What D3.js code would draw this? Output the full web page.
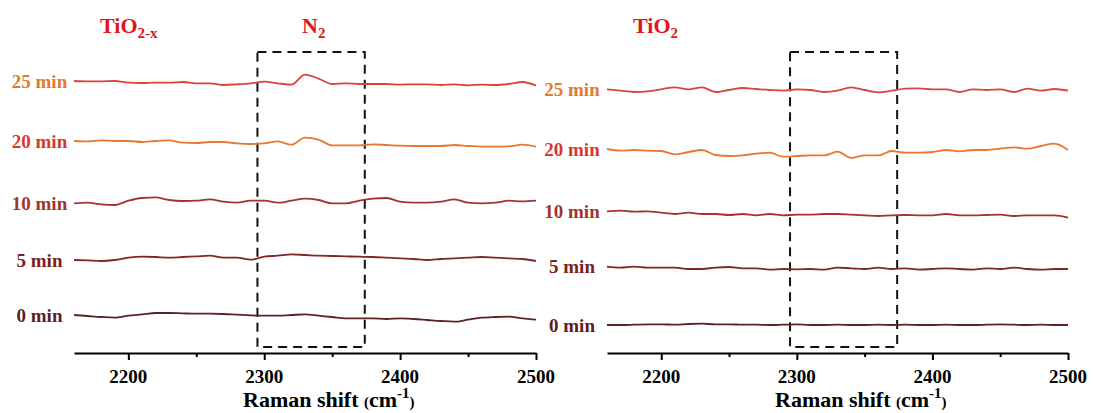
<!DOCTYPE html>
<html>
<head>
<meta charset="utf-8">
<script src="https://cdn.jsdelivr.net/npm/d3@7"></script>
<style>
  body { margin: 0; background: #fff; }
  svg text { font-family: "Liberation Serif", "Times New Roman", serif; font-weight: bold; }
</style>
</head>
<body>
<div id="chart-container"></div>
<script>
// Raman shift (cm-1) sample points shared by every trace
var shift = [2160, 2170, 2180, 2190, 2200, 2210, 2220, 2230, 2240, 2250, 2260, 2270,
             2280, 2290, 2300, 2310, 2320, 2330, 2340, 2350, 2360, 2370, 2380, 2390,
             2400, 2410, 2420, 2430, 2440, 2450, 2460, 2470, 2480, 2490, 2500];

var times = ["0 min", "5 min", "10 min", "20 min", "25 min"];
var traceColors = ["#5c2323", "#7e2727", "#a53232", "#e8772f", "#d9443b"];
var labelColors = ["#5a1f1f", "#7a2222", "#a2342e", "#d8382c", "#e27a30"];

var tickValues = [2200, 2250, 2300, 2350, 2400, 2450, 2500];
var tickLabels = ["2200", "2300", "2400", "2500"];
var boxShift = [2295, 2374];
var boxLevels = [6, 301];

// TiO2-x panel: vertical offsets and intensities (a.u.)
var leftOffsets = [37.3, 95.3, 151.3, 210.3, 269.7];
var left0 = [0.7, -0.3, -1.3, -2, 0, 1.3, 2.7, 2.7, 2.3, 2, 2, 1.7, 1, 0.3, 0, 0, 0.7, 1.3, 0, -1.3,
             -2.7, -2.7, -2.7, -3.3, -2.7, -3.3, -4.3, -5.3, -6, -4, -2, -1.3, -1, -2.7, -4];
var left5 = [-2.3, -2.7, -3.3, -2.3, 0, 1, 0.7, 0, 0.7, 1.3, 2, 0, 0, -2, 1, 2, 3.3, 2.7, 2, 1.7,
             1.3, 1, 0.7, 0, -0.7, -1.3, -2.3, -1.3, -0.7, 0, 0.7, 0, -0.7, -1.3, -3.3];
var left10 = [-1.7, -1, -2.7, -3.3, 1, 3.7, 4.3, 1.7, 0.7, 1, 2.3, 0, -1, 1, 1, -1, 1, 3, 1.7, -1.7,
              -1.7, 1, 3, 3.7, 0, -1, -1, 0, 2.3, -1, -1.7, -1, 1, 0.3, 1];
var left20 = [1.7, 1.3, 2.3, 1.7, 1.7, 0.7, 1.7, 2.3, 0, -0.3, 0.7, 0.7, -0.7, -1.3, -0.7, 1.3, -2, 5, 3, -2.7,
              -2.7, -2.7, -1.7, -2.3, -3, -3.3, -3.3, -3.3, -2.3, -3.3, -4, -4, -3.7, -2, -4];
var left25 = [2.3, 2, 2, 2.3, 0.7, 0.3, 0.7, 0.7, 1.3, 0, 0, -1.7, -1, 0, 1.7, 0, -1.3, 8.7, 4.7, -0.7,
              0, -0.7, -0.7, -0.7, -1.3, -1, -1, -1.7, -1, -2, -1.3, -1.7, -0.7, 1.3, -2.3];

// TiO2 panel
var rightOffsets = [28, 84.7, 139, 201.3, 263];
var right0 = [0, 0, 0.3, 0.7, 0.7, 0.3, 1, 1.3, 0.7, 0.7, 0.3, 0.3, 0, 0.3, 0.7, 0, 0, 0.3, 0, 0,
              0.3, 0, 0.3, 0, 0, 0.3, 0, 0, 0.3, 0.7, 0.3, 0, 0.3, 0, 0];
var right5 = [1.7, 0.7, 1.7, 0.7, 0.7, 0.7, -0.7, -0.7, 0.7, 1.3, 0, 0, -1.3, -0.7, -1, -0.7, -1.3, 0.7, 0, -0.7,
              0.7, -0.7, 0, -1.3, -0.7, 0, -0.7, -1.3, 0, -0.7, 0.7, -0.7, -1.3, -0.7, -0.7];
var right10 = [2.7, 3.3, 2.3, 2.7, 1.3, 0, 1.3, 0, 0, -1, 0, -1.3, 0, -1.3, -0.7, -0.7, 0, 0, -0.7, -1.3,
               -2, -1.3, -1, -1.3, -1.3, 0, -1.3, -1.3, -1, -0.7, -2, -1.3, -1.3, -1.3, -3.7];
var right20 = [2.7, 1, 1.7, 1, 0.7, -2.7, -0.3, 1.7, -3.3, -4.3, -3.7, -2, -1, -5, -4.3, -3.7, -3.7, 0, -6.3, -3.7,
               -3.7, 0.7, -1, -1, -0.3, 1.7, 0.3, 1.7, 1.7, 3, 4.3, 3, 5.7, 8, 1.7];
var right25 = [0.7, -0.7, -2, -1.3, 0.7, 2.7, 0.7, 2.7, -2, 0, 2, 1, 0, -0.7, 0.7, 0, -2, -0.7, 2.7, 0,
               -2.3, -0.7, 1.3, 1.7, 0.7, 0.7, -2, 0.7, 0, 0.7, -2, 1.3, -0.7, 1, -0.7];

var panels = [
  { title: "TiO", sub: "2-x", titleX: 100, labelX: 39.5, range: [74, 536], titleAxisX: 243,
    offsets: leftOffsets, series: [left0, left5, left10, left20, left25] },
  { title: "TiO", sub: "2", titleX: 633, labelX: 572, range: [607, 1068], titleAxisX: 775,
    offsets: rightOffsets, series: [right0, right5, right10, right20, right25] }
];

var svgWidth = 1093, svgHeight = 413;
var svg = d3.select("#chart-container").append("svg")
    .attr("width", svgWidth).attr("height", svgHeight);

var y = d3.scaleLinear().domain([0, 313]).range([353, 40]);

panels.forEach(function(p) {
  var x = d3.scaleLinear().domain([2160, 2500]).range(p.range);
  var g = svg.append("g");

  // dashed region box
  var bx0 = x(boxShift[0]), bx1 = x(boxShift[1]);
  var by0 = y(boxLevels[0]), by1 = y(boxLevels[1]);
  g.append("path")
      .attr("d", "M" + bx0 + "," + by1 + "L" + bx1 + "," + by1 + "L" + bx1 + "," + by0 + "L" + bx0 + "," + by0 + "Z")
      .attr("fill", "none")
      .attr("stroke", "#111")
      .attr("stroke-width", 2)
      .attr("stroke-dasharray", "9,6");

  // traces
  p.series.forEach(function(vals, i) {
    var line = d3.line()
        .x(function(d, k) { return x(shift[k]); })
        .y(function(d) { return y(p.offsets[i] + d); })
        .curve(d3.curveMonotoneX);
    g.append("path")
        .datum(vals)
        .attr("fill", "none")
        .attr("stroke", traceColors[i])
        .attr("stroke-width", 1.8)
        .attr("stroke-linejoin", "round")
        .attr("d", line);

    g.append("text")
        .attr("x", p.labelX)
        .attr("y", y(p.offsets[i] + vals[0]))
        .attr("dy", "0.36em")
        .attr("text-anchor", "middle")
        .attr("font-size", 19)
        .attr("fill", labelColors[i])
        .text(times[i]);
  });

  // bottom axis (line and ticks), labels drawn separately
  var axis = g.append("g")
      .attr("transform", "translate(0," + y(0) + ")")
      .call(d3.axisBottom(x)
        .tickValues(tickValues)
        .tickSize(7)
        .tickSizeOuter(0)
        .tickFormat(""));
  axis.select(".domain").attr("stroke", "#000").attr("stroke-width", 2.2);
  axis.selectAll(".tick line").attr("stroke", "#000").attr("stroke-width", 2)
      .attr("y2", function(d) { return d % 100 === 0 ? 7 : 4; });
  axis.selectAll(".tick text").remove();

  g.selectAll(".ticklabel")
      .data(tickLabels)
      .enter()
      .append("text")
      .attr("class", "ticklabel")
      .attr("x", function(d) { return x(+d); })
      .attr("y", y(0) + 30)
      .attr("text-anchor", "middle")
      .attr("font-size", 19)
      .attr("fill", "#000")
      .text(function(d) { return d; });

  // axis title
  var t = g.append("text").attr("x", p.titleAxisX).attr("y", 407).attr("fill", "#000");
  t.append("tspan").attr("font-size", 22).text("Raman shift ");
  t.append("tspan").attr("font-size", 15).text("(");
  t.append("tspan").attr("font-size", 22).text("cm");
  t.append("tspan").attr("font-size", 15).attr("dy", -9).text("-1");
  t.append("tspan").attr("font-size", 15).attr("dy", 9).text(")");

  // panel title
  var h = g.append("text").attr("x", p.titleX).attr("y", 33).attr("fill", "#e5141c");
  h.append("tspan").attr("font-size", 22).text(p.title);
  h.append("tspan").attr("font-size", 15).attr("dy", 5).text(p.sub);
});

// gas label over the first box
var n2 = svg.append("text").attr("x", 302).attr("y", 33).attr("fill", "#e5141c");
n2.append("tspan").attr("font-size", 22).text("N");
n2.append("tspan").attr("font-size", 15).attr("dy", 5).text("2");
</script>
</body>
</html>
